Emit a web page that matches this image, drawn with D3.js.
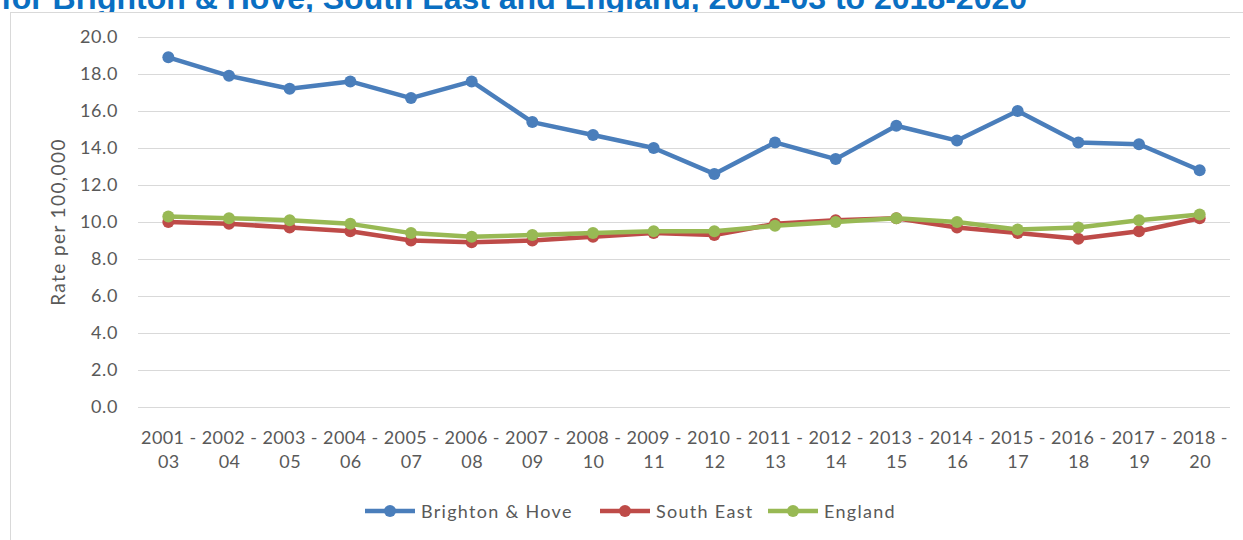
<!DOCTYPE html>
<html>
<head>
<meta charset="utf-8">
<script src="https://cdn.jsdelivr.net/npm/d3@7/dist/d3.min.js"></script>
<style>
  html, body { margin: 0; padding: 0; background: #fff; }
  svg { display: block; }
</style>
</head>
<body>
<svg id="chart" width="1243" height="540"></svg>
<script>
// Three-year rolling periods
const periods = ["2001 - 03","2002 - 04","2003 - 05","2004 - 06","2005 - 07","2006 - 08",
  "2007 - 09","2008 - 10","2009 - 11","2010 - 12","2011 - 13","2012 - 14","2013 - 15",
  "2014 - 16","2015 - 17","2016 - 18","2017 - 19","2018 - 20"];

// Rate per 100,000 population
const brightonHove = [18.9,17.9,17.2,17.6,16.7,17.6,15.4,14.7,14.0,12.6,14.3,13.4,15.2,14.4,16.0,14.3,14.2,12.8];
const southEast    = [10.0, 9.9, 9.7, 9.5, 9.0, 8.9, 9.0, 9.2, 9.4, 9.3, 9.9,10.1,10.2, 9.7, 9.4, 9.1, 9.5,10.2];
const england      = [10.3,10.2,10.1, 9.9, 9.4, 9.2, 9.3, 9.4, 9.5, 9.5, 9.8,10.0,10.2,10.0, 9.6, 9.7,10.1,10.4];

const yTicks = [0,2,4,6,8,10,12,14,16,18,20];

const seriesNames = ["Brighton & Hove","South East","England"];
const seriesColors = ["#4a7ebb","#be4b48","#98b954"];
const seriesValues = [brightonHove, southEast, england];

const titleText = "for Brighton & Hove, South East and England, 2001-03 to 2018-2020";
const yTitle = "Rate per 100,000";

const svg = d3.select("#chart");
const font = "Lato, 'Open Sans', sans-serif";
const textGrey = "#595959";

// Heading (runs off the top edge)
svg.append("text")
  .attr("x", 1).attr("y", 9)
  .attr("font-family", "'Liberation Sans', Arial, sans-serif")
  .attr("font-weight", "bold")
  .attr("font-size", 32)
  .attr("fill", "#0a6fc2")
  .text(titleText);

// Chart frame
svg.append("rect")
  .attr("x", 10.5).attr("y", 12.5)
  .attr("width", 1250).attr("height", 560)
  .attr("fill", "#fff")
  .attr("stroke", "#d9d9d9");

const x = d3.scalePoint().domain(periods).range([138, 1230]).padding(0.5);
const y = d3.scaleLinear().domain([0, 20]).range([407, 37]);

// Gridlines
svg.append("g")
  .selectAll("line")
  .data(yTicks)
  .join("line")
  .attr("x1", 138).attr("x2", 1230)
  .attr("y1", d => Math.round(y(d)) + 0.5)
  .attr("y2", d => Math.round(y(d)) + 0.5)
  .attr("stroke", "#d9d9d9")
  .attr("stroke-width", 1);

// Y axis labels
const yAxis = d3.axisLeft(y).tickValues(yTicks).tickFormat(d3.format(".1f")).tickSize(0).tickPadding(0);
const gy = svg.append("g").attr("transform", "translate(118,0)").call(yAxis);
gy.select(".domain").remove();
gy.selectAll("text")
  .attr("font-family", font)
  .attr("font-size", 18)
  .attr("letter-spacing", 0.6)
  .attr("fill", textGrey);

// Y axis title
svg.append("text")
  .attr("transform", `translate(65,${y(10)}) rotate(-90)`)
  .attr("text-anchor", "middle")
  .attr("font-family", font)
  .attr("font-size", 19)
  .attr("letter-spacing", 1.4)
  .attr("fill", textGrey)
  .text(yTitle);

// X axis labels, wrapped onto two lines
const xAxis = d3.axisBottom(x).tickSize(0).tickPadding(0).tickFormat(() => "");
const gx = svg.append("g").attr("transform", `translate(0,${y(0)})`).call(xAxis);
gx.select(".domain").remove();
gx.selectAll(".tick").each(function(d) {
  const parts = d.split(" - ");
  const t = d3.select(this).select("text")
    .attr("font-family", font)
    .attr("font-size", 18)
    .attr("letter-spacing", 0.4)
    .attr("fill", textGrey)
    .attr("text-anchor", "middle")
    .attr("dy", null)
    .attr("y", 0);
  t.append("tspan").attr("x", 0).attr("y", 37).text(parts[0] + " -");
  t.append("tspan").attr("x", 0).attr("y", 61).text(parts[1]);
});

// Series lines and markers
const line = d3.line().x((d, i) => x(periods[i])).y(d => y(d));
seriesValues.forEach((vals, s) => {
  const g = svg.append("g");
  g.append("path")
    .datum(vals)
    .attr("d", line)
    .attr("fill", "none")
    .attr("stroke", seriesColors[s])
    .attr("stroke-width", 4.5)
    .attr("stroke-linejoin", "round")
    .attr("stroke-linecap", "round");
  g.selectAll("circle")
    .data(vals)
    .join("circle")
    .attr("cx", (d, i) => x(periods[i]))
    .attr("cy", d => y(d))
    .attr("r", 6)
    .attr("fill", seriesColors[s]);
});

// Legend
const legendX = [365, 600, 768];
const legendY = 511;
seriesNames.forEach((name, s) => {
  const g = svg.append("g").attr("transform", `translate(${legendX[s]},${legendY})`);
  g.append("line")
    .attr("x1", 0).attr("x2", 50)
    .attr("y1", 0).attr("y2", 0)
    .attr("stroke", seriesColors[s])
    .attr("stroke-width", 4.5);
  g.append("circle").attr("cx", 25).attr("cy", 0).attr("r", 6).attr("fill", seriesColors[s]);
  g.append("text")
    .attr("x", 56).attr("y", 6.5)
    .attr("font-family", font)
    .attr("font-size", 18)
    .attr("letter-spacing", 1.3)
    .attr("fill", textGrey)
    .text(name);
});
</script>
</body>
</html>
